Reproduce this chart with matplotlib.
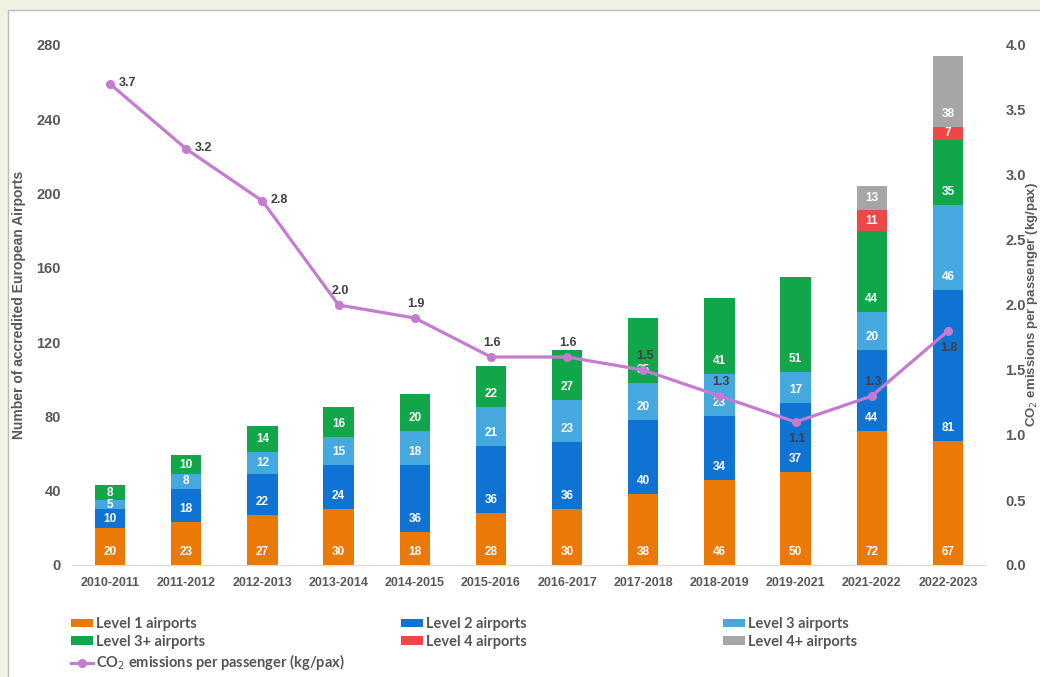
import matplotlib
matplotlib.use("Agg")
import matplotlib.pyplot as plt
import numpy as np
from matplotlib.patches import Rectangle


periods = ["2010-2011", "2011-2012", "2012-2013", "2013-2014", "2014-2015",
           "2015-2016", "2016-2017", "2017-2018", "2018-2019", "2019-2021",
           "2021-2022", "2022-2023"]
level1 = [20, 23, 27, 30, 18, 28, 30, 38, 46, 50, 72, 67]
level2 = [10, 18, 22, 24, 36, 36, 36, 40, 34, 37, 44, 81]
level3 = [5, 8, 12, 15, 18, 21, 23, 20, 23, 17, 20, 46]
level3p = [8, 10, 14, 16, 20, 22, 27, 35, 41, 51, 44, 35]
level4 = [0, 0, 0, 0, 0, 0, 0, 0, 0, 0, 11, 7]
level4p = [0, 0, 0, 0, 0, 0, 0, 0, 0, 0, 13, 38]
co2 = [3.7, 3.2, 2.8, 2.0, 1.9, 1.6, 1.6, 1.5, 1.3, 1.1, 1.3, 1.8]

series_names = ["Level 1 airports", "Level 2 airports", "Level 3 airports",
                "Level 3+ airports", "Level 4 airports", "Level 4+ airports"]
series_colors = ["#EA7A05", "#0E73D3", "#45A9E0", "#12A64B", "#EE4747", "#A6A6A6"]
line_color = "#C47BD0"
label_pos = ["right", "right", "right", "above", "above", "above", "above",
             "above", "above", "below", "above", "below"]

plt.rcParams["font.family"] = ["Liberation Sans", "DejaVu Sans"]

fig = plt.figure(figsize=(10.4, 6.77), dpi=100, facecolor="#EEF3E2")
fig.patches.append(Rectangle((8 / 1040, -0.01), 1.0, 1.01 - 10 / 677,
                             transform=fig.transFigure, facecolor="white",
                             edgecolor="#BBBBBB", linewidth=1.0, zorder=-5))

ax = fig.add_axes([72 / 1040, 1 - 565 / 677, 914 / 1040, 520 / 677])
ax.patch.set_visible(False)
x = np.arange(len(periods))
bottom = np.zeros(len(periods))
handles = []
px_unit = 280 / 520.0
for vals, name, col in zip([level1, level2, level3, level3p, level4, level4p],
                           series_names, series_colors):
    vals = np.array(vals, dtype=float)
    h = ax.bar(x, vals, 0.4, bottom=bottom, color=col, label=name, zorder=2)
    handles.append(h)
    for xi, b, v in zip(x, bottom, vals):
        if v > 0:
            off = min(13 * px_unit, v / 2)
            ax.text(xi, b + off, f"{int(v)}", ha="center", va="center",
                    color="white", fontsize=8.5, fontweight="bold", zorder=3)
    bottom += vals

ax.set_xlim(-0.5, len(periods) - 0.5)
ax.set_ylim(0, 280)
ax.set_yticks(np.arange(0, 281, 40))
ax.set_xticks(x)
ax.set_xticklabels(periods)
for s in ["top", "right", "left"]:
    ax.spines[s].set_visible(False)
ax.spines["bottom"].set_color("#D9D9D9")
ax.tick_params(axis="both", length=0, labelsize=10.5, colors="#595959", pad=8)
ax.tick_params(axis="x", labelsize=9, pad=9)
for t in ax.get_xticklabels() + ax.get_yticklabels():
    t.set_fontweight("bold")
ax.set_ylabel("Number of accredited European Airports", fontsize=10,
              color="#595959", fontweight="bold")
ax.yaxis.set_label_coords(-0.05, 0.5)

ax2 = ax.twinx()
ax2.set_ylim(0, 4.0)
ax2.set_yticks(np.arange(0, 4.01, 0.5))
ax2.set_yticklabels([f"{v:.1f}" for v in np.arange(0, 4.01, 0.5)])
for s in ["top", "right", "left", "bottom"]:
    ax2.spines[s].set_visible(False)
ax2.tick_params(axis="y", length=0, labelsize=10.5, colors="#595959", pad=14)
for t in ax2.get_yticklabels():
    t.set_fontweight("bold")
ax2.set_ylabel("CO$_2$ emissions per passenger (kg/pax)", fontsize=9.5,
               color="#595959", fontweight="bold", rotation=90)
ax2.yaxis.set_label_coords(1.042, 0.5)

ln, = ax2.plot(x, co2, color=line_color, linewidth=2.3, marker="o",
               markersize=5.5, zorder=4,
               label="CO$_2$ emissions per passenger (kg/pax)")
for xi, v, p in zip(x, co2, label_pos):
    if p == "right":
        ax2.annotate(f"{v:.1f}", (xi, v), xytext=(6, 1), textcoords="offset points",
                     ha="left", va="center", fontsize=9, fontweight="bold",
                     color="#404040", zorder=5)
    elif p == "above":
        ax2.annotate(f"{v:.1f}", (xi, v), xytext=(1, 10), textcoords="offset points",
                     ha="center", va="center", fontsize=9, fontweight="bold",
                     color="#404040", zorder=5)
    else:
        ax2.annotate(f"{v:.1f}", (xi, v), xytext=(1, -12), textcoords="offset points",
                     ha="center", va="center", fontsize=9, fontweight="bold",
                     color="#404040", zorder=5)

# three legend columns at fixed x positions, like Excel's evenly spaced layout
leg_cols = [[handles[0], handles[3], ln], [handles[1], handles[4]],
            [handles[2], handles[5]]]
leg_x = [58, 388, 710]
for col_handles, lx in zip(leg_cols, leg_x):
    leg = fig.legend(col_handles, [h.get_label() for h in col_handles],
                     loc="upper left", bbox_to_anchor=(lx / 1040, 1 - 604 / 677),
                     frameon=False, handlelength=1.5, handleheight=0.5,
                     handletextpad=0.2, labelspacing=0.25,
                     prop={"family": ["Lato", "DejaVu Sans"], "weight": "bold",
                           "size": 10.5})
    for t in leg.get_texts():
        t.set_color("#555555")

fig.savefig("out.png", dpi=100, facecolor=fig.get_facecolor())
